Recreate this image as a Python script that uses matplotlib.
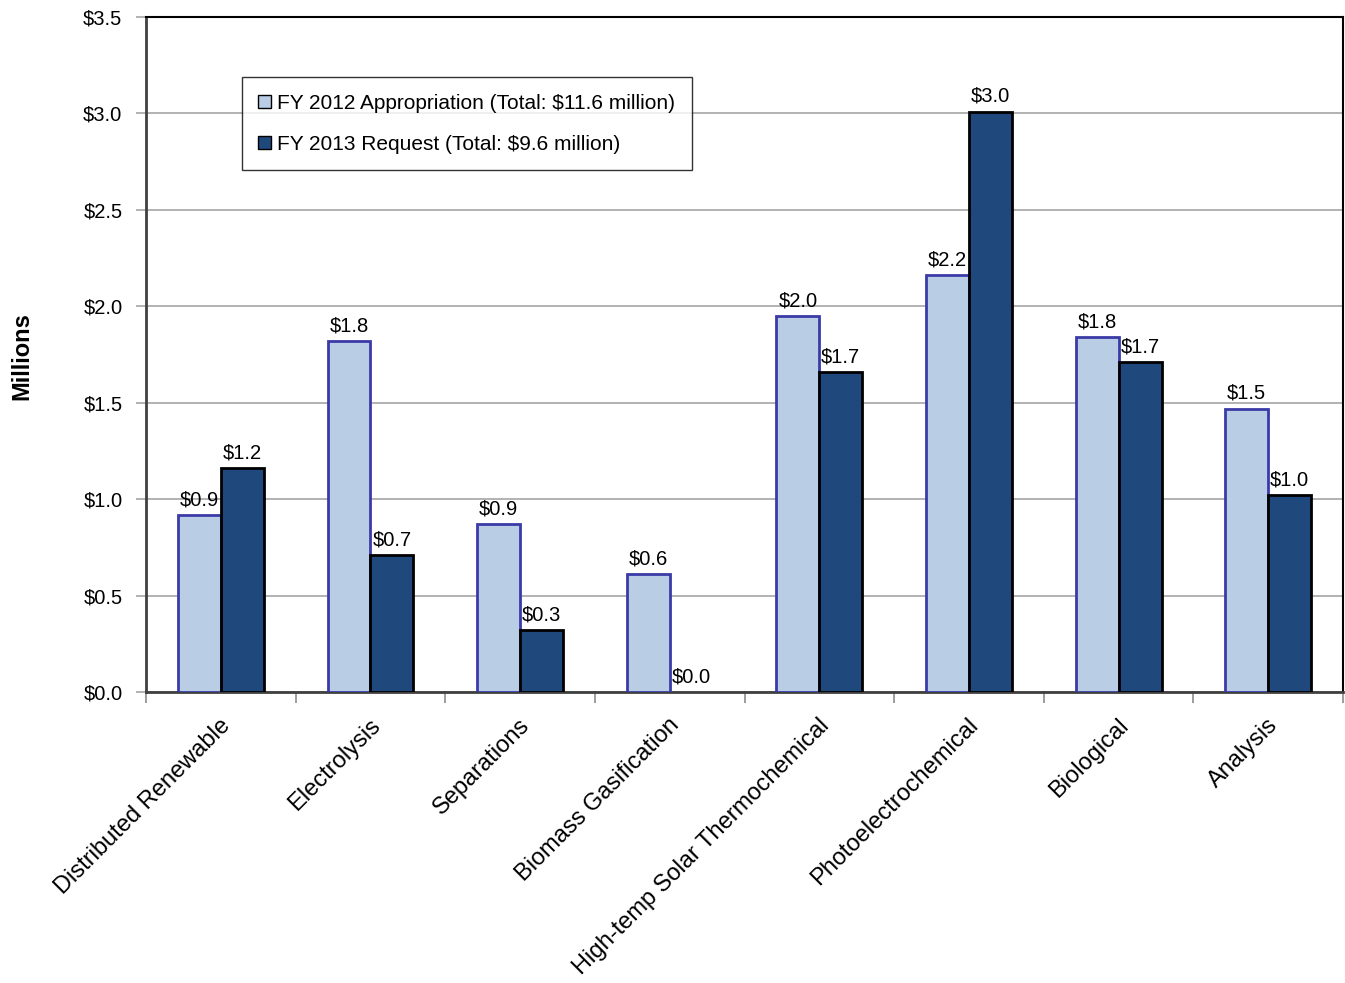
import numpy as np
import matplotlib
matplotlib.use("Agg")
import matplotlib.pyplot as plt

plt.rcParams['font.family'] = ['Liberation Sans', 'DejaVu Sans']

categories = ["Distributed Renewable", "Electrolysis", "Separations", "Biomass Gasification",
              "High-temp Solar Thermochemical", "Photoelectrochemical", "Biological", "Analysis"]
fy2012 = [0.92, 1.82, 0.87, 0.61, 1.95, 2.16, 1.84, 1.47]
fy2013 = [1.16, 0.71, 0.32, 0.0, 1.66, 3.01, 1.71, 1.02]
yticks = [0.0, 0.5, 1.0, 1.5, 2.0, 2.5, 3.0, 3.5]

fig = plt.figure(figsize=(13.45, 9.83), dpi=100)
ax = fig.add_axes([0.1086, 0.296, 0.8899, 0.6867])

x = np.arange(len(categories))
w = 0.287
b1 = ax.bar(x - w/2, fy2012, w, color="#b9cde5", edgecolor="#3b3ba8", linewidth=2,
            label="FY 2012 Appropriation (Total: $11.6 million)", zorder=3)
b2 = ax.bar(x + w/2, fy2013, w, color="#1f497d", edgecolor="black", linewidth=2,
            label="FY 2013 Request (Total: $9.6 million)", zorder=3)

for bars, vals in [(b1, fy2012), (b2, fy2013)]:
    for r, v in zip(bars, vals):
        if v == 0:
            r.set_linewidth(0)
        ax.annotate("$%.1f" % (v + 1e-6), (r.get_x() + r.get_width()/2, v), xytext=(0, 4),
                    textcoords="offset points", ha="center", va="bottom", fontsize=14.5)

ax.set_xlim(-0.5, len(categories) - 0.5)
ax.set_ylim(0, 3.5)
ax.set_yticks(yticks)
ax.set_yticklabels(["$%.1f" % t for t in yticks], fontsize=14.5)
ax.yaxis.grid(True, color="#a6a6a6", linewidth=1.2, zorder=0)
ax.tick_params(axis="y", length=7, color="#a6a6a6", width=1.2, pad=10)

ax.set_xticks(np.arange(len(categories) + 1) - 0.5)
ax.set_xticklabels([])
ax.tick_params(axis="x", length=8, color="#8c8c8c", width=1.2)
for i, c in enumerate(categories):
    ax.annotate(c, (i, 0), xytext=(-1, -16), textcoords="offset points",
                rotation=45, ha="right", va="top", rotation_mode="anchor",
                fontsize=17, annotation_clip=False)

for s in ["top", "right"]:
    ax.spines[s].set_color("black")
    ax.spines[s].set_linewidth(1.5)
ax.spines["left"].set_color("#404040")
ax.spines["left"].set_linewidth(2)
ax.spines["bottom"].set_color("#404040")
ax.spines["bottom"].set_linewidth(2)

fig.text(0.016, 0.638, "Millions", rotation=90, fontsize=17, fontweight="bold",
         ha="center", va="center")

leg = ax.legend(loc="upper left", bbox_to_anchor=(0.08, 0.911), fontsize=15,
                frameon=True, fancybox=False, handlelength=0.6, handleheight=0.6,
                handletextpad=0.3, borderpad=0.8, labelspacing=1.05, borderaxespad=0)
leg.get_frame().set_edgecolor("black")
leg.get_frame().set_linewidth(1)
for h in leg.legend_handles:
    h.set_linewidth(1)
    h.set_edgecolor("black")

fig.savefig("out.png", dpi=100)
